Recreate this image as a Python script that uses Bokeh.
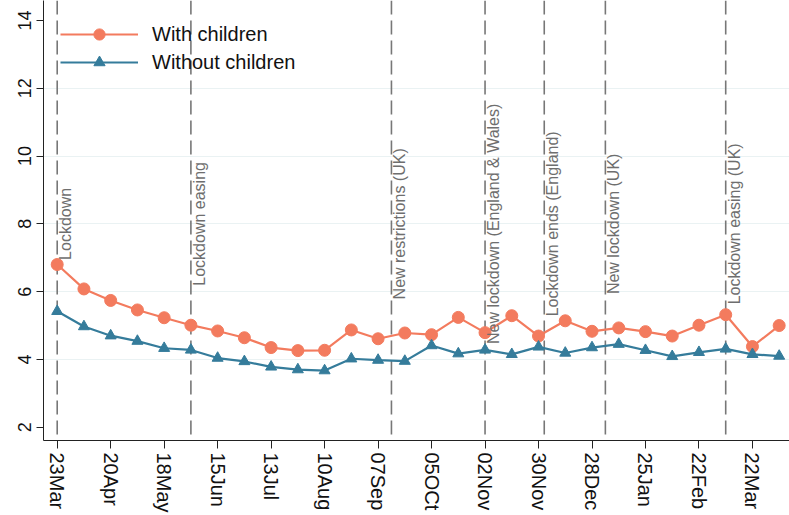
import pandas as pd
from math import pi
from bokeh.plotting import figure
from bokeh.models import ColumnDataSource, Span, FixedTicker, Legend, LegendItem, Range1d
from bokeh.core.properties import value
from bokeh.embed import file_html
from bokeh.resources import INLINE

FONT = "Liberation Sans"
ORANGE = "#F37B5E"
BLUE = "#357C9B"

# ---- data ----
dates = ["2020-03-23", "2020-04-06", "2020-04-20", "2020-05-04", "2020-05-18", "2020-06-01",
         "2020-06-15", "2020-06-29", "2020-07-13", "2020-07-27", "2020-08-10", "2020-08-24",
         "2020-09-07", "2020-09-21", "2020-10-05", "2020-10-19", "2020-11-02", "2020-11-16",
         "2020-11-30", "2020-12-14", "2020-12-28", "2021-01-11", "2021-01-25", "2021-02-08",
         "2021-02-22", "2021-03-08", "2021-03-22", "2021-04-05"]
with_children = [6.80, 6.08, 5.74, 5.46, 5.23, 5.01, 4.84, 4.64, 4.35, 4.26, 4.27, 4.87,
                 4.61, 4.78, 4.73, 5.24, 4.79, 5.29, 4.69, 5.14, 4.83, 4.93, 4.82, 4.69,
                 5.01, 5.32, 4.38, 5.00]
without_children = [5.42, 4.97, 4.70, 4.54, 4.33, 4.28, 4.04, 3.94, 3.78, 3.70, 3.67, 4.02,
                    3.98, 3.95, 4.41, 4.17, 4.28, 4.15, 4.37, 4.19, 4.35, 4.45, 4.27, 4.09,
                    4.21, 4.31, 4.15, 4.10]

tick_dates = ["2020-03-23", "2020-04-20", "2020-05-18", "2020-06-15", "2020-07-13", "2020-08-10",
              "2020-09-07", "2020-10-05", "2020-11-02", "2020-11-30", "2020-12-28", "2021-01-25",
              "2021-02-22", "2021-03-22"]
tick_labels = ["23Mar", "20Apr", "18May", "15Jun", "13Jul", "10Aug", "07Sep", "05OCt",
               "02Nov", "30Nov", "28Dec", "25Jan", "22Feb", "22Mar"]
y_ticks = [2, 4, 6, 8, 10, 12, 14]
y_grid = [4, 6, 8, 10, 12]

event_dates = ["2020-03-23", "2020-06-01", "2020-09-14", "2020-11-02", "2020-12-03",
               "2021-01-04", "2021-03-08"]
event_labels = ["Lockdown", "Lockdown easing", "New restrictions (UK)",
                "New lockdown (England & Wales)", "Lockdown ends (England)",
                "New lockdown (UK)", "Lockdown easing (UK)"]
event_label_y = 8

day0 = pd.Timestamp("2020-03-23")
def to_days(ds):
    return [(pd.Timestamp(d) - day0).days for d in ds]

x = to_days(dates)
tick_x = to_days(tick_dates)
ev_x = to_days(event_dates)

p = figure(width=789, height=515, output_backend="svg", toolbar_location=None,
           x_range=Range1d(-7.17, 383.4), y_range=Range1d(1.608, 14.59),
           min_border_left=43, min_border_right=0, min_border_top=0, min_border_bottom=75)
p.outline_line_color = None
p.background_fill_color = "white"
p.border_fill_color = "white"

# grid
p.xgrid.visible = False
p.ygrid.ticker = FixedTicker(ticks=y_grid)
p.ygrid.grid_line_color = "#EAF2F3"
p.ygrid.grid_line_width = 1

# event lines
for ex in ev_x:
    p.add_layout(Span(location=ex, dimension="height", line_color="#777777",
                      line_width=1.6, line_dash="14 6", level="underlay"))

# series
src = ColumnDataSource(dict(x=x, w=with_children, wo=without_children))
l1 = p.line("x", "w", source=src, line_color=ORANGE, line_width=2.2)
s1 = p.scatter("x", "w", source=src, marker="circle", size=12, fill_color=ORANGE, line_color=ORANGE)
l2 = p.line("x", "wo", source=src, line_color=BLUE, line_width=2.2)
s2 = p.scatter("x", "wo", source=src, marker="triangle", size=11, fill_color=BLUE, line_color=BLUE)

# event labels
esrc = ColumnDataSource(dict(x=ev_x, y=[event_label_y] * len(ev_x), t=event_labels))
p.text("x", "y", text="t", source=esrc, angle=pi / 2, text_align="center", text_baseline="top",
       text_font=value(FONT), text_font_size="16px", text_color="#6E6E6E")

# axes
for ax in (p.xaxis, p.yaxis):
    ax.axis_line_color = "#222222"
    ax.major_tick_line_color = "#222222"
    ax.minor_tick_line_color = None
    ax.major_tick_in = 0
    ax.major_label_text_font = FONT
    ax.major_label_text_color = "#111111"

p.xaxis.ticker = FixedTicker(ticks=tick_x)
p.xaxis.major_label_overrides = {t: l for t, l in zip(tick_x, tick_labels)}
p.xaxis.major_label_orientation = "vertical"
p.xaxis.major_label_text_font_size = "20px"
p.xaxis.major_tick_out = 8
p.xaxis.major_label_standoff = 4

p.yaxis.ticker = FixedTicker(ticks=y_ticks)
p.yaxis.major_label_orientation = "vertical"
p.yaxis.major_label_text_font_size = "18px"
p.yaxis.major_tick_out = 7
p.yaxis.major_label_standoff = 5

legend = Legend(items=[LegendItem(label="With children", renderers=[l1, s1]),
                       LegendItem(label="Without children", renderers=[l2, s2])],
                location=(17, 364), margin=0, padding=0, spacing=0,
                glyph_width=78, glyph_height=28, label_height=28, label_standoff=14,
                label_text_font=FONT, label_text_font_size="20px", label_text_color="#111111",
                background_fill_alpha=0, border_line_color=None)
p.add_layout(legend)

open("out.html", "w").write(file_html(p, INLINE))
